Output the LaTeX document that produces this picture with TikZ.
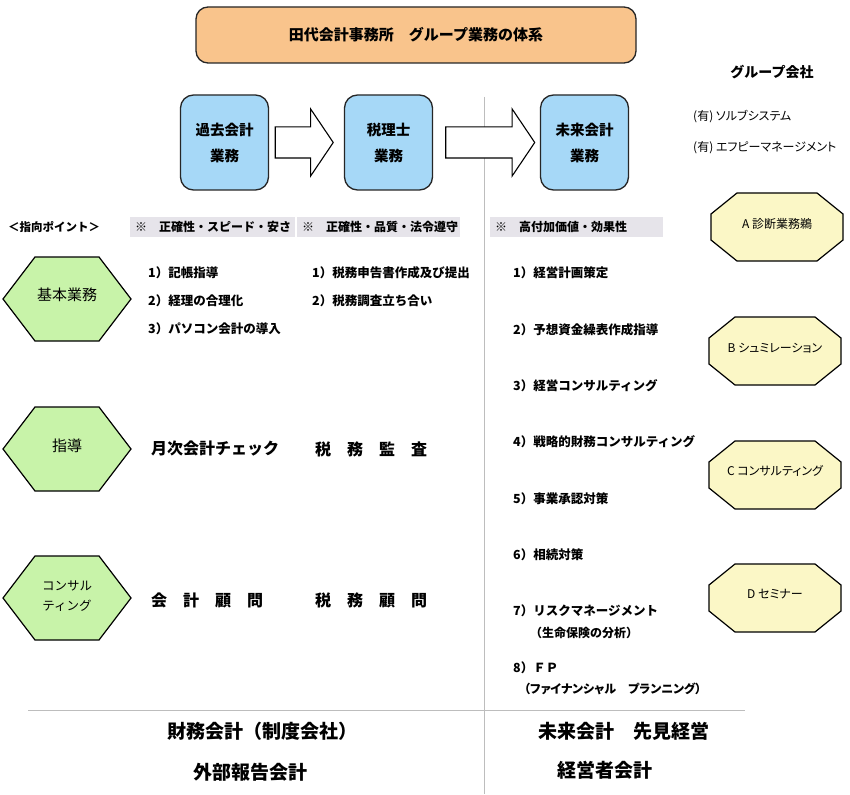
\documentclass[tikz,border=0pt]{standalone}
\usepackage{fontspec}
\setmainfont{Noto Sans CJK JP}
\newfontfamily\paltfont{Noto Sans CJK JP}[RawFeature=+palt]
\usetikzlibrary{shapes.arrows}
\definecolor{orangeF}{HTML}{F9C48C}
\definecolor{blueF}{HTML}{A6D8F7}
\definecolor{greenF}{HTML}{C8F3A9}
\definecolor{yellowF}{HTML}{FBF7C6}
\definecolor{barF}{HTML}{E6E4EA}
\definecolor{lineG}{HTML}{BDBDBD}
\newcommand\hexag[2]{%
  \draw[hexstyle] ({#1-64},#2) -- ({#1-32},{#2-42}) -- ({#1+32},{#2-42}) -- ({#1+64},#2) -- ({#1+32},{#2+42}) -- ({#1-32},{#2+42}) -- cycle;}
\newcommand\octag[2]{%
  \draw[octstyle] ({#1-40},{#2-34}) -- ({#1+40},{#2-34}) -- ({#1+66},{#2-13}) -- ({#1+66},{#2+13}) -- ({#1+40},{#2+34}) -- ({#1-40},{#2+34}) -- ({#1-66},{#2+13}) -- ({#1-66},{#2-13}) -- cycle;}
\begin{document}
\begin{tikzpicture}[x=1pt,y=-1pt,
  titlebox/.style={draw=black!85, line width=1.3pt, fill=orangeF, rounded corners=12pt, minimum width=440pt, minimum height=56pt, font=\fontsize{15}{18}\selectfont\bfseries},
  bluebox/.style={draw=black!85, line width=1.3pt, fill=blueF, rounded corners=13pt, minimum width=88pt, minimum height=95pt, align=center, font=\fontsize{14.5}{26}\selectfont\bfseries},
  blockarrow/.style={single arrow, draw=black, fill=white, line width=1.1pt, minimum height=#1, single arrow head extend=18pt, single arrow tip angle=112, inner xsep=0pt, inner ysep=15pt, text height=0pt, text depth=0pt},
  hexstyle/.style={draw=black, line width=1.2pt, fill=greenF},
  octstyle/.style={draw=black, line width=1.2pt, fill=yellowF},
  hextxt/.style={inner sep=0pt, align=center, font=\fontsize{15}{20}\selectfont},
  octtxt/.style={inner sep=0pt, font=\fontsize{12}{14}\selectfont\paltfont},
  bar/.style={fill=barF, anchor=west, inner xsep=5pt, inner ysep=0pt, minimum height=20pt, align=left, font=\fontsize{12}{14}\selectfont\bfseries},
  item/.style={anchor=west, inner sep=0pt, font=\fontsize{12.5}{15}\selectfont\bfseries},
  big/.style={anchor=west, inner sep=0pt, font=\fontsize{16}{19}\selectfont\bfseries},
  bottom/.style={inner sep=0pt, font=\fontsize{19}{22}\selectfont\bfseries},
  sep/.style={draw=lineG, line width=0.8pt}]
\useasboundingbox (0,0) rectangle (850,794);
\fill[white] (0,0) rectangle (850,794);

% separators
\coordinate (vtop) at (484,97);
\coordinate (vbot) at (484,794);
\coordinate (hl) at (28,710);
\coordinate (hr) at (745,710);
\draw[sep] (vtop) -- (vbot);
\draw[sep] (hl) -- (hr);

% title
\node[titlebox] (title) at (416,35) {田代会計事務所　グループ業務の体系};

% group companies
\node[inner sep=0pt, font=\fontsize{14}{16}\selectfont\bfseries] (grp) at (772,72) {グループ会社};
\node[item, font=\fontsize{12}{14}\selectfont\paltfont] (g1) at (693,117) {(有) ソルブシステム};
\node[item, font=\fontsize{12}{14}\selectfont\paltfont] (g2) at (693,148) {(有) エフピーマネージメント};

% blue boxes and block arrows
\node[bluebox] (past) at (224.5,142.5) {過去会計\\業務};
\node[bluebox] (tax) at (388.5,142.5) {税理士\\業務};
\node[bluebox] (future) at (584.5,142.5) {未来会計\\業務};
\node[blockarrow=58pt] (a1) at (299,142.5) {};
\node[blockarrow=89pt] (a2) at (485,142.5) {};

% points bars
\node[item, font=\fontsize{11.5}{14}\selectfont\bfseries] (pt) at (8,227) {＜指向ポイント＞};
\node[bar, text width=155pt] (b1) at (130,227) {※　正確性・スピード・安さ};
\node[bar, text width=153pt] (b2) at (297,227) {※　正確性・品質・法令遵守};
\node[bar, text width=163pt] (b3) at (490,227) {※　高付加価値・効果性};

% hexagons
\hexag{67}{299}
\node[hextxt] (h1) at (67,295) {基本業務};
\hexag{67}{449}
\node[hextxt] (h2) at (67,446) {指導};
\hexag{67}{598}
\node[hextxt, font=\fontsize{12.5}{20}\selectfont] (h3) at (67,596) {コンサル\\ティング};

% left column texts
\node[item] (c11) at (148,273) {1）記帳指導};
\node[item] (c12) at (148,301) {2）経理の合理化};
\node[item] (c13) at (148,329) {3）パソコン会計の導入};
\node[item] (c21) at (312,273) {1）税務申告書作成及び提出};
\node[item] (c22) at (312,301) {2）税務調査立ち合い};
\node[big] (m1) at (151,449) {月次会計チェック};
\node[big] (m2) at (315,449) {税　務　監　査};
\node[big] (k1) at (151,600) {会　計　顧　問};
\node[big] (k2) at (315,600) {税　務　顧　問};

% right list
\node[item] (r1) at (513,273) {1）経営計画策定};
\node[item] (r2) at (513,330) {2）予想資金繰表作成指導};
\node[item] (r3) at (513,386) {3）経営コンサルティング};
\node[item] (r4) at (513,442) {4）戦略的財務コンサルティング};
\node[item] (r5) at (513,499) {5）事業承認対策};
\node[item] (r6) at (513,555) {6）相続対策};
\node[item] (r7) at (513,611) {7）リスクマネージメント};
\node[item, font=\fontsize{12}{14}\selectfont\bfseries] (r7b) at (530,633) {（生命保険の分析）};
\node[item] (r8) at (513,668) {8）ＦＰ};
\node[item, font=\fontsize{12}{14}\selectfont\bfseries\paltfont] (r8b) at (524,689) {（ファイナンシャル　プランニング）};

% octagons
\octag{777}{227}
\node[octtxt] (oA) at (777,224) {A 診断業務鵜};
\octag{775}{351}
\node[octtxt] (oB) at (775,348) {B シュミレーション};
\octag{775}{475}
\node[octtxt] (oC) at (775,471) {C コンサルティング};
\octag{775}{598}
\node[octtxt] (oD) at (775,594) {D セミナー};

% bottom
\node[bottom] (f1) at (262,731) {財務会計（制度会社）};
\node[bottom] (f2) at (250,772) {外部報告会計};
\node[bottom] (u1) at (624,731) {未来会計　先見経営};
\node[bottom] (u2) at (605,770) {経営者会計};
\end{tikzpicture}
\end{document}
